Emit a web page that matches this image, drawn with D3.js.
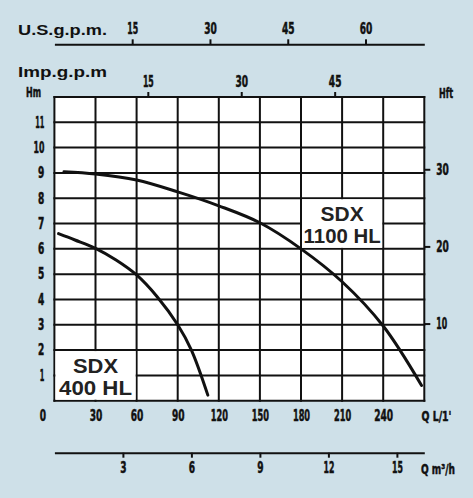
<!DOCTYPE html>
<html>
<head>
<meta charset="utf-8">
<script src="https://cdn.jsdelivr.net/npm/d3@7"></script>
<style>
	html, body { margin: 0; padding: 0; background: #cee0e8; }
	svg { display: block; }
</style>
</head>
<body>
<div id="chart"></div>
<script>
///////////////////////////////////////////////////////////////////////////////
//// Data /////////////////////////////////////////////////////////////////////
///////////////////////////////////////////////////////////////////////////////
// SDX 1100 HL curve, Q in L/min, H in m
const q1100 = [7, 30, 60, 90, 120, 150, 180, 210, 240, 268];
const h1100 = [9.05, 8.96, 8.72, 8.25, 7.7, 7.03, 6.0, 4.7, 2.95, 0.6];

// SDX 400 HL curve
const q400 = [3, 15, 30, 45, 60, 75, 90, 100, 112];
const h400 = [6.6, 6.35, 6.02, 5.56, 4.97, 4.11, 3.0, 2.0, 0.22];

// Tick labels of the five scales
const hmTicks = [1, 2, 3, 4, 5, 6, 7, 8, 9, 10, 11];
const qTicks = [0, 30, 60, 90, 120, 150, 180, 210, 240];
const hftTicks = [10, 20, 30];
const impTicks = [15, 30, 45];
const usTicks = [15, 30, 45, 60];
const m3hTicks = [3, 6, 9, 12, 15];

// Unit conversions from L/min and metres
const impGal = 4.546,
			usGal = 3.785,
			ftPerM = 3.2808;

///////////////////////////////////////////////////////////////////////////////
//// Set Up ///////////////////////////////////////////////////////////////////
///////////////////////////////////////////////////////////////////////////////
const width = 473,
			height = 498;

const plot = { left: 54.4, right: 424.3, top: 97, bottom: 400.7 };

const qMax = 270,
			hMax = 12;

const x = d3.scaleLinear()
		.domain([0, qMax])
		.range([plot.left, plot.right]);

const y = d3.scaleLinear()
		.domain([0, hMax])
		.range([plot.bottom, plot.top]);

// Secondary scales share the same pixel range
const xImp = d3.scaleLinear().domain([0, qMax / impGal]).range(x.range());
const xUs = d3.scaleLinear().domain([0, qMax / usGal]).range(x.range());
const xM3h = d3.scaleLinear().domain([0, qMax * 0.06]).range(x.range());
const yFt = d3.scaleLinear().domain([0, hMax * ftPerM]).range(y.range());

const narrow = "'DejaVu Sans Condensed', 'Liberation Sans', sans-serif";

// Width of a condensed label, "1" is thinner than the other glyphs
function condensedWidth(s) {
	return s.split("").reduce((w, c) => w + (c === "1" ? 4.6 : 6.3), 0);
}

function condense(sel) {
	sel.attr("textLength", function() { return condensedWidth(this.textContent); })
		.attr("lengthAdjust", "spacingAndGlyphs");
}

const svg = d3.select("#chart")
	.append("svg")
		.attr("width", width)
		.attr("height", height);

svg.append("rect")
		.attr("width", width)
		.attr("height", height)
		.attr("fill", "#cee0e8");

///////////////////////////////////////////////////////////////////////////////
//// Grid /////////////////////////////////////////////////////////////////////
///////////////////////////////////////////////////////////////////////////////
svg.append("rect")
		.attr("x", x(0))
		.attr("y", y(hMax))
		.attr("width", x(qMax) - x(0))
		.attr("height", y(0) - y(hMax))
		.attr("fill", "#fff");

const gridG = svg.append("g")
		.attr("stroke", "#111")
		.attr("stroke-width", 2);

gridG.selectAll(".v")
	.data(d3.range(0, qMax + 1, 30))
	.enter()
	.append("line")
		.attr("x1", x)
		.attr("x2", x)
		.attr("y1", y(0) + 1)
		.attr("y2", y(hMax) - 1);

gridG.selectAll(".h")
	.data(d3.range(0, hMax + 1, 1))
	.enter()
	.append("line")
		.attr("x1", x(0) - 1)
		.attr("x2", x(qMax) + 1)
		.attr("y1", y)
		.attr("y2", y);

// White boxes behind the model names
const boxes = [
	{ q0: 0, q1: 60, h0: 0, h1: 2, lines: ["SDX", "400 HL"], widths: [45, 73] },
	{ q0: 180, q1: 240, h0: 6, h1: 8, lines: ["SDX", "1100 HL"], widths: [43, 77] }
];

boxes.forEach(b => {
	svg.append("rect")
			.attr("x", x(b.q0) + 1)
			.attr("y", y(b.h1) + 1)
			.attr("width", x(b.q1) - x(b.q0) - 2)
			.attr("height", y(b.h0) - y(b.h1) - 2)
			.attr("fill", "#fff");

	const cx = (x(b.q0) + x(b.q1)) / 2,
				top = y(b.h1);

	const label = svg.append("text")
			.attr("text-anchor", "middle")
			.attr("font-family", "'Liberation Sans', Arial, sans-serif")
			.attr("font-weight", "bold")
			.attr("font-size", 20)
			.attr("fill", "#222");
	label.append("tspan")
			.attr("x", cx)
			.attr("y", top + 22.5)
			.attr("textLength", b.widths[0])
			.attr("lengthAdjust", "spacingAndGlyphs")
			.text(b.lines[0]);
	label.append("tspan")
			.attr("x", cx)
			.attr("y", top + 45.2)
			.attr("textLength", b.widths[1])
			.attr("lengthAdjust", "spacingAndGlyphs")
			.text(b.lines[1]);
});

///////////////////////////////////////////////////////////////////////////////
//// Curves ///////////////////////////////////////////////////////////////////
///////////////////////////////////////////////////////////////////////////////
const line = d3.line()
		.x(d => x(d[0]))
		.y(d => y(d[1]))
		.curve(d3.curveCatmullRom.alpha(0.5));

[[q1100, h1100], [q400, h400]].forEach(s => {
	svg.append("path")
			.datum(d3.zip(s[0], s[1]))
			.attr("fill", "none")
			.attr("stroke", "#111")
			.attr("stroke-width", 3)
			.attr("stroke-linecap", "round")
			.attr("d", line);
});

///////////////////////////////////////////////////////////////////////////////
//// Axes /////////////////////////////////////////////////////////////////////
///////////////////////////////////////////////////////////////////////////////
function styleAxis(g) {
	g.attr("font-family", narrow)
		.attr("font-weight", "bold")
		.attr("font-size", 15);
	// Thin stroke thickens the squeezed glyphs
	g.selectAll("text")
			.attr("fill", "#111")
			.attr("stroke", "#111")
			.attr("stroke-width", 0.5)
			.call(condense);
	g.selectAll("line").attr("stroke", "#111").attr("stroke-width", 2);
	g.selectAll("path.domain").attr("stroke", "#111").attr("stroke-width", 2);
}

// Hm, left
svg.append("g")
		.attr("transform", `translate(${plot.left}, 0)`)
		.call(d3.axisLeft(y).tickValues(hmTicks).tickSize(0).tickPadding(10))
		.call(styleAxis)
		.call(g => g.select(".domain").remove());

// Q L/min, bottom of the grid
svg.append("g")
		.attr("transform", `translate(0, ${plot.bottom})`)
		.call(d3.axisBottom(x).tickValues(qTicks).tickSize(0).tickPadding(10))
		.call(styleAxis)
		.call(g => g.select(".domain").remove())
		.call(g => g.selectAll(".tick text").attr("dx", d => d === 0 ? -12 : 0));

// Hft, right
svg.append("g")
		.attr("transform", `translate(${plot.right}, 0)`)
		.call(d3.axisRight(yFt).tickValues(hftTicks).tickSize(6).tickPadding(6))
		.call(styleAxis)
		.call(g => g.select(".domain").remove());

// Imp.g.p.m, on top of the grid
svg.append("g")
		.attr("transform", `translate(0, ${plot.top})`)
		.call(d3.axisTop(xImp).tickValues(impTicks).tickSize(5).tickPadding(5))
		.call(styleAxis)
		.call(g => g.select(".domain").remove());

// U.S.g.p.m., separate line above
svg.append("g")
		.attr("transform", "translate(0, 44.3)")
		.call(d3.axisTop(xUs).tickValues(usTicks).tickSize(5).tickSizeOuter(0).tickPadding(5))
		.call(styleAxis);

// m3/h, separate line below
svg.append("g")
		.attr("transform", "translate(0, 452.7)")
		.call(d3.axisBottom(xM3h).tickValues(m3hTicks).tickSize(5).tickSizeOuter(0).tickPadding(5))
		.call(styleAxis);

///////////////////////////////////////////////////////////////////////////////
//// Unit Labels //////////////////////////////////////////////////////////////
///////////////////////////////////////////////////////////////////////////////
svg.append("text")
		.attr("x", 18)
		.attr("y", 34.5)
		.attr("font-family", "'Liberation Sans', Arial, sans-serif")
		.attr("font-weight", "bold")
		.attr("font-size", 14)
		.attr("textLength", 89)
		.attr("lengthAdjust", "spacingAndGlyphs")
		.attr("fill", "#111")
		.text("U.S.g.p.m.");

svg.append("text")
		.attr("x", 18)
		.attr("y", 77)
		.attr("font-family", "'Liberation Sans', Arial, sans-serif")
		.attr("font-weight", "bold")
		.attr("font-size", 14)
		.attr("textLength", 89)
		.attr("lengthAdjust", "spacingAndGlyphs")
		.attr("fill", "#111")
		.text("Imp.g.p.m");

const unitLabels = [
	{ text: "Hm", x: 26, y: 97, w: 15 },
	{ text: "Hft", x: 439, y: 97.5, w: 14 },
	{ text: "Q L/1'", x: 421.5, y: 420.5, w: 30 },
	{ text: "Q m³/h", x: 421, y: 473.5, w: 34 }
];

svg.selectAll(".unit")
	.data(unitLabels)
	.enter()
	.append("text")
		.attr("x", d => d.x)
		.attr("y", d => d.y)
		.attr("font-family", narrow)
		.attr("font-weight", "bold")
		.attr("font-size", 14)
		.attr("stroke", "#111")
		.attr("stroke-width", 0.5)
		.attr("textLength", d => d.w)
		.attr("lengthAdjust", "spacingAndGlyphs")
		.attr("fill", "#111")
		.text(d => d.text);
</script>
</body>
</html>
